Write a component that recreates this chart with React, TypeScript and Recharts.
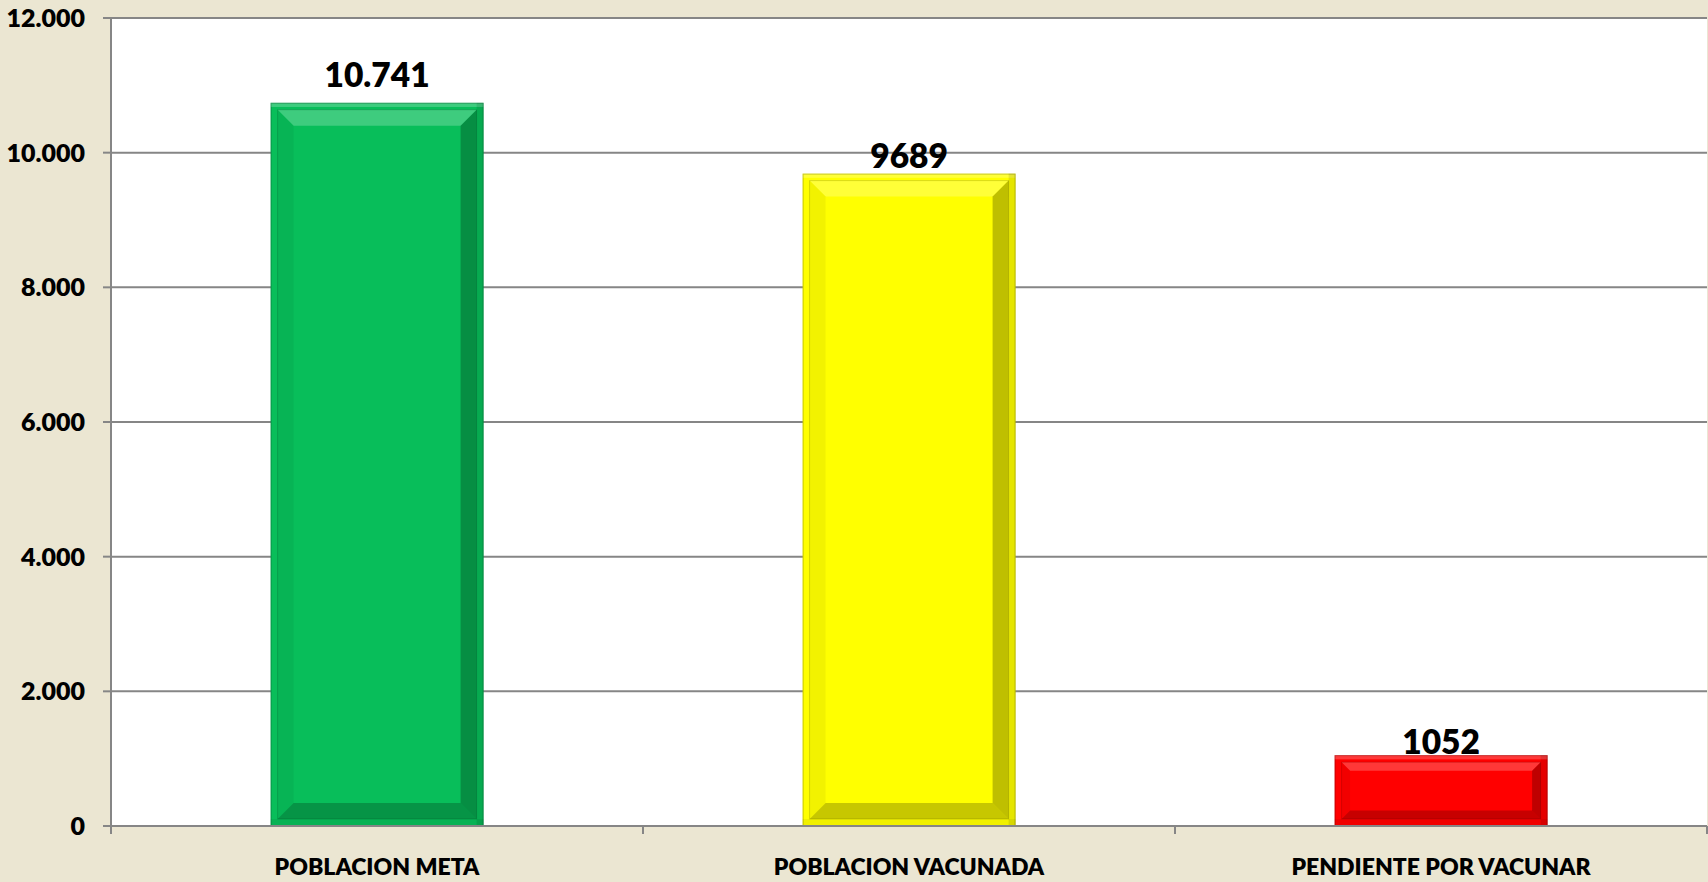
import React from "react";
import { BarChart, Bar, XAxis, YAxis, CartesianGrid, LabelList } from "recharts";

// values
const categories = ["POBLACION META", "POBLACION VACUNADA", "PENDIENTE POR VACUNAR"];
const values = [10741, 9689, 1052];
const valueLabels = ["10.741", "9689", "1052"];
const barColors = ["#08BE5A", "#FFFF00", "#FF0000"];
const yTicks = [0, 2000, 4000, 6000, 8000, 10000, 12000];

// label nudges (px above bar top), as placed in the original
const labelLift = [16, 6, 1];

const W = 1708;
const H = 882;
const M = { top: 18, right: 1, bottom: 0, left: 0 };
const Y_AXIS_W = 111;
const X_AXIS_H = 56;
const BAND = (W - M.left - M.right - Y_AXIS_W) / categories.length;

const BG = "#EBE6D2";
const AXIS = "#868686";
const FONT = "Lato, 'Open Sans', sans-serif";

const fmt = (v: number) => String(v).replace(/\B(?=(\d{3})+(?!\d))/g, ".");

const data = categories.map((name, i) => ({
  name,
  value: values[i],
  label: valueLabels[i],
  color: barColors[i],
  lift: labelLift[i],
}));

// Excel-style "bevel" bar: outer frame + inner bevelled panel
function BevelBar(props: any) {
  const { x, y, width: w, height: h, payload } = props;
  if (!h || h <= 0) return null;
  const c = payload.color;
  const f = 7; // frame thickness
  const b = Math.min(16, h * 0.12); // bevel depth
  const ix = x + f;
  const iy = y + f;
  const iw = w - 2 * f;
  const ih = h - 2 * f;
  const top = `${ix},${iy} ${ix + iw},${iy} ${ix + iw - b},${iy + b} ${ix + b},${iy + b}`;
  const bottom = `${ix},${iy + ih} ${ix + iw},${iy + ih} ${ix + iw - b},${iy + ih - b} ${ix + b},${iy + ih - b}`;
  const left = `${ix},${iy} ${ix + b},${iy + b} ${ix + b},${iy + ih - b} ${ix},${iy + ih}`;
  const right = `${ix + iw},${iy} ${ix + iw - b},${iy + b} ${ix + iw - b},${iy + ih - b} ${ix + iw},${iy + ih}`;
  return (
    <g>
      <rect x={x} y={y} width={w} height={h} fill={c} />
      {/* frame shading */}
      <rect x={x} y={y} width={w} height={f * 0.6} fill="#fff" fillOpacity={0.22} />
      <rect x={x + w - f} y={y} width={f} height={h} fill="#000" fillOpacity={0.1} />
      <rect x={x} y={y + h - f} width={w} height={f} fill="#000" fillOpacity={0.06} />
      {/* inner panel bevel */}
      <polygon points={top} fill="#fff" fillOpacity={0.22} />
      <polygon points={left} fill="#000" fillOpacity={0.05} />
      <polygon points={right} fill="#000" fillOpacity={0.25} />
      <polygon points={bottom} fill="#000" fillOpacity={0.22} />
      <rect x={ix} y={iy} width={iw} height={ih} fill="none" stroke="#000" strokeOpacity={0.15} strokeWidth={1} />
      <rect x={x + 0.5} y={y + 0.5} width={w - 1} height={h - 1} fill="none" stroke="#000" strokeOpacity={0.22} strokeWidth={1} />
    </g>
  );
}

function CategoryTick(props: any) {
  const { x, y, payload, index } = props;
  const half = BAND / 2;
  return (
    <g>
      <line x1={x - half} x2={x - half} y1={y - 8} y2={y} stroke={AXIS} strokeWidth={2} />
      {index === categories.length - 1 && (
        <line x1={x + half} x2={x + half} y1={y - 8} y2={y} stroke={AXIS} strokeWidth={2} />
      )}
      <text x={x} y={y + 41} textAnchor="middle" fill="#000" fontSize={23} fontWeight={800} fontFamily={FONT}>
        {payload.value}
      </text>
    </g>
  );
}

function ValueLabel(props: any) {
  const { x, y, width, index } = props;
  const d = data[index];
  return (
    <text x={x + width / 2} y={y - d.lift} textAnchor="middle" fill="#000" fontSize={33.5} fontWeight={800} fontFamily={FONT}>
      {d.label}
    </text>
  );
}

export default function App() {
  return (
    <div style={{ position: "absolute", left: 0, top: 0, width: W, height: H, background: BG }}>
      <BarChart width={W} height={H} data={data} margin={M} barCategoryGap="30%">
        <CartesianGrid vertical={false} stroke={AXIS} strokeWidth={2} fill="#fff" fillOpacity={1} />
        <XAxis
          dataKey="name"
          height={X_AXIS_H}
          interval={0}
          tickLine={false}
          tickSize={8}
          tickMargin={0}
          axisLine={{ stroke: AXIS, strokeWidth: 2 }}
          tick={<CategoryTick />}
        />
        <YAxis
          width={Y_AXIS_W}
          domain={[0, 12000]}
          ticks={yTicks}
          tickFormatter={fmt}
          tickSize={8}
          tickMargin={18}
          axisLine={{ stroke: AXIS, strokeWidth: 2 }}
          tickLine={{ stroke: AXIS, strokeWidth: 2 }}
          tick={{ fill: "#000", fontSize: 25, fontWeight: 800, fontFamily: FONT }}
        />
        <Bar dataKey="value" isAnimationActive={false} shape={<BevelBar />}>
          <LabelList dataKey="label" content={<ValueLabel />} />
        </Bar>
      </BarChart>
    </div>
  );
}
